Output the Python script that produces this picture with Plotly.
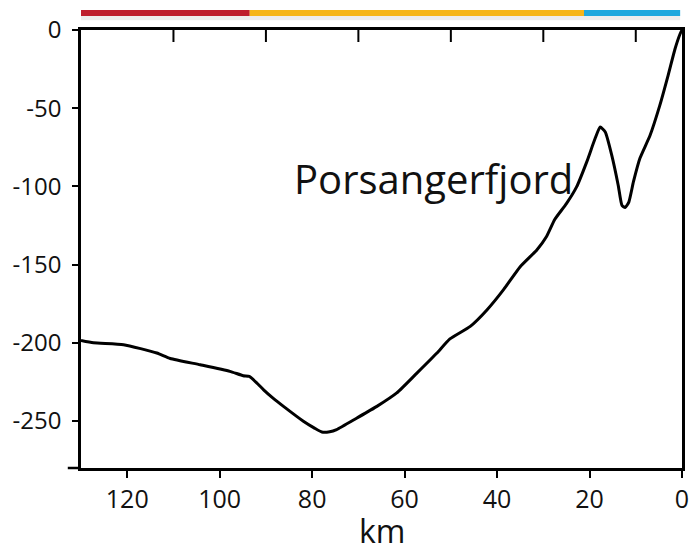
import plotly.graph_objects as go

# Bathymetric profile along the fjord (distance from head, depth in metres)
distance_km = [130, 127.3, 120.8, 113.6, 110.7, 104.2, 97.8, 94.9, 93.6, 92.0,
               90.5, 88.4, 86.2, 81.9, 79.5, 77.9, 76.2, 74.7, 70.3, 66.0,
               61.7, 57.4, 53.0, 50.2, 45.8, 42.2, 38.6, 35.0, 31.4, 29.3,
               27.5, 25.0, 22.8, 20.6, 18.8, 17.7, 16.6, 15.2, 13.8, 13.0,
               12.3, 11.5, 10.5, 9.1, 6.9, 4.8, 3.0, 1.5, 0.4, 0.0]
depth_m = [-198.5, -200, -201.2, -206.5, -210, -214, -218.2, -221, -221.5, -225.6,
           -230, -235.5, -240.6, -250.1, -254.5, -257, -256.8, -255.4, -248, -240.6,
           -232, -219.5, -206.5, -197.5, -189.5, -179, -166, -151.3, -140.6, -132,
           -121, -111, -100.3, -84.3, -69.4, -62, -65.2, -80, -99.2, -112,
           -113.5, -110, -97, -82, -67.3, -48.2, -29, -12, -2.4, 0]

# Axis ticks
x_ticks = [120, 100, 80, 60, 40, 20, 0]
x_top_ticks = [110, 90, 70, 50, 30, 10]
y_ticks = [0, -50, -100, -150, -200, -250]
y_tick_text = ["0", "-50", "-100", "-150", "-200", "-250"]

# Coloured zone bar above the profile (km start, km end, colour)
zones = [(130, 93.5, "#be1e2d"), (93.5, 21.2, "#f6b619"), (21.2, 0.4, "#1ea8de")]

FONT = "Open Sans"
INK = "#111111"
PLOT_H = 546 - 30 - 78  # plot-area height in px

fig = go.Figure()
fig.add_trace(go.Scatter(
    x=distance_km, y=depth_m, mode="lines",
    line=dict(color="black", width=3, shape="spline", smoothing=0.5),
    hoverinfo="skip", showlegend=False,
))

shapes = []
for x0, x1, col in zones:
    shapes.append(dict(type="rect", xref="x", yref="paper", x0=x0, x1=x1,
                       y0=1.032, y1=1.0457, fillcolor=col, line=dict(width=0), layer="above"))
shapes.append(dict(type="rect", xref="x", yref="paper", x0=130, x1=0.4,
                   y0=1.022, y1=1.032, fillcolor="rgba(0,0,0,0.07)", line=dict(width=0)))
# inward ticks along the top frame, halfway between the bottom ticks
for xv in x_top_ticks:
    shapes.append(dict(type="line", xref="x", yref="paper", x0=xv, x1=xv,
                       y0=1, y1=1 - 12 / PLOT_H, line=dict(color="black", width=2)))
# bottom axis line extends slightly left of the depth axis
shapes.append(dict(type="line", xref="paper", yref="paper", x0=-0.022, x1=0,
                   y0=0, y1=0, line=dict(color="black", width=2.5)))

fig.update_layout(
    width=691, height=546,
    margin=dict(l=81, r=9, t=30, b=78, autoexpand=False),
    paper_bgcolor="white", plot_bgcolor="white",
    font=dict(family=FONT, color=INK),
    shapes=shapes,
    xaxis=dict(
        range=[130, 0], tickvals=x_ticks, ticks="outside", ticklen=7, tickwidth=2,
        tickcolor="black", showline=True, mirror=True, linecolor="black", linewidth=2.5,
        showgrid=False, zeroline=False, automargin=False,
        tickfont=dict(size=25, family=FONT, color=INK),
    ),
    yaxis=dict(
        range=[-280, 0], tickvals=y_ticks, ticktext=y_tick_text, ticks="outside",
        ticklen=6, tickwidth=2, tickcolor="black", showline=True, mirror=True,
        linecolor="black", linewidth=2.5, showgrid=False, zeroline=False, automargin=False,
        tickfont=dict(size=24, family=FONT, color=INK), ticklabelstandoff=6,
    ),
    annotations=[
        dict(x=84.3, y=-95, xref="x", yref="y", xanchor="left", yanchor="middle",
             text="Porsangerfjord", showarrow=False,
             font=dict(size=40, family=FONT, color=INK)),
        dict(x=0.5, y=-86 / PLOT_H, xref="paper", yref="paper", xanchor="center",
             yanchor="bottom", text="km", showarrow=False,
             font=dict(size=32, family=FONT, color=INK)),
    ],
)

fig.write_html("out.html")
